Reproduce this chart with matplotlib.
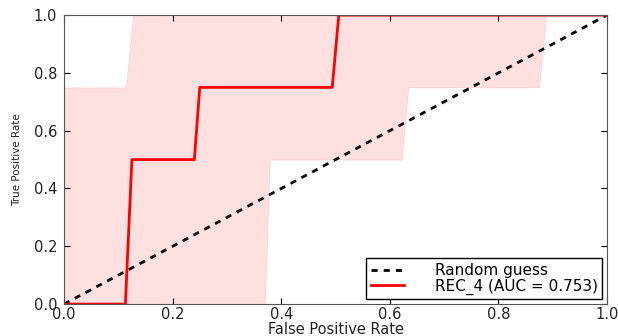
import matplotlib
matplotlib.use("Agg")
import matplotlib.pyplot as plt

# mean ROC curve
roc_fpr = [0.0, 0.113, 0.125, 0.24, 0.25, 0.494, 0.506, 1.0]
roc_tpr = [0.0, 0.0, 0.5, 0.5, 0.75, 0.75, 1.0, 1.0]

# +/- std band
band_fpr = [0.0, 0.114, 0.127, 0.370, 0.379, 0.622, 0.634, 0.875, 0.888, 1.0]
band_low = [0.0, 0.0, 0.0, 0.0, 0.5, 0.5, 0.75, 0.75, 1.0, 1.0]
band_up = [0.75, 0.75, 1.0, 1.0, 1.0, 1.0, 1.0, 1.0, 1.0, 1.0]

auc = 0.753

fig = plt.figure(figsize=(6.18, 3.36), dpi=100)
ax = fig.add_axes([0.1036, 0.095, 0.8786, 0.86])

ax.fill_between(band_fpr, band_low, band_up, color="red", alpha=0.12, lw=0.5)
ax.plot([0, 1], [0, 1], color="black", ls="--", dashes=(2.2, 2.2), lw=2,
        label="Random guess")
ax.plot(roc_fpr, roc_tpr, color="red", lw=2, label="REC_4 (AUC = %0.3f)" % auc)

ax.set_xlim(0, 1)
ax.set_ylim(0, 1)
ax.set_xticks([0, 0.2, 0.4, 0.6, 0.8, 1.0])
ax.set_yticks([0, 0.2, 0.4, 0.6, 0.8, 1.0])
ax.tick_params(direction="in", top=True, right=True, labelsize=10.5, length=4,
               labelcolor="#222222")
ax.tick_params(axis="x", pad=2)
ax.tick_params(axis="y", pad=5)
for s in ax.spines.values():
    s.set_color("#555555")

ax.set_xlabel("False Positive Rate", fontsize=10.5, labelpad=0, color="#222222")
ax.set_ylabel("True Positive Rate", fontsize=7.5, labelpad=8, color="#222222")

leg = ax.legend(loc="lower right", fontsize=11, fancybox=False, framealpha=1,
                handlelength=2.2, handletextpad=2.0, labelspacing=0.05,
                borderaxespad=0.3, borderpad=0.3)
leg.get_frame().set_edgecolor("black")

fig.savefig("out.png", dpi=100, facecolor="white")
